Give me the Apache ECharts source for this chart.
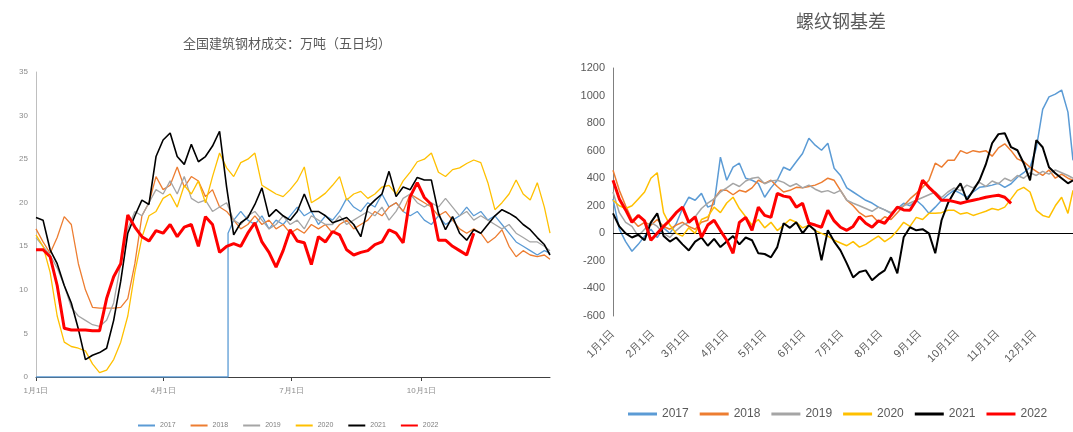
<!DOCTYPE html>
<html><head><meta charset="utf-8">
<script src="https://cdn.jsdelivr.net/npm/echarts@6/dist/echarts.min.js"></script>
<style>html,body{margin:0;padding:0;background:#fff}#c{width:1073px;height:432px}</style>
</head><body><div id="c"></div><script>
const years = ['2017','2018','2019','2020','2021','2022'];
const colors = ['#5B9BD5','#ED7D31','#A5A5A5','#FFC000','#000000','#FF0000'];
const leftTitle = '全国建筑钢材成交：万吨（五日均）';
const rightTitle = '螺纹钢基差';
const leftTickLabels = ['1月1日','4月1日','7月1日','10月1日'];
const rightTickLabels = ['1月1日','2月1日','3月1日','4月1日','5月1日','6月1日','7月1日','8月1日','9月1日','10月1日','11月1日','12月1日'];
const monthLengths = [31,28,31,30,31,30,31,31,30,31,30,31];
// sample day indices (day of year, 0 = 1月1日)
const sampleDays = [0,5,10,15,20,25,30,35,40,45,50,55,60,65,70,75,80,85,90,95,100,105,110,115,120,125,130,135,140,145,150,155,160,165,170,175,180,185,190,195,200,205,210,215,220,225,230,235,240,245,250,255,260,265,270,275,280,285,290,295,300,305,310,315,320,325,330,335,340,345,350,355,360,364];
const days2017Left = [0,136,136,140,145,150,155,160,165,170,175,180,185,190,195,200,205,210,215,220,225,230,235,240,245,250,255,260,265,270,275,280,285,290,295,300,305,310,315,320,325,330,335,340,345,350,355,360,364];

// Left: 全国建筑钢材成交 (万吨)
const left2017 = [0,0,16.5,
 18,19,18,17.5,18.5,17,18,17.5,18.5,19.5,
 18.5,19,17.5,18.5,18,19,20.5,19.5,19,20,
 19.5,21,19.5,20,19,18.5,19,18,17.5,18.5,
 17.5,18,18.5,19.5,18.5,19,18,18.5,17.5,16.5,
 15.5,15,14.5,14,14.5,14.2];
const left2018 = [17,15.5,14.2,16,18.4,17.5,13,10,8,7.9,
 7.9,7.9,8,9,13,18.5,20,23,21.5,22,
 24.1,21.8,23,22.5,20.7,21.5,19.5,19,18,17,
 17.5,18.5,17.5,18,17,17.5,16.5,17,16.5,17.5,
 17,17.5,16.5,17.5,18,17,17.5,18,19,18.5,
 19.5,20,19,21,20.5,20,19.5,18.5,19,18,
 17,16.5,17,16.5,15.4,16,16.9,15,13.8,14.5,
 14,13.8,14,13.5];
const left2019 = [16,15,14,12.5,10.5,8,7,6.5,6,5.8,
 6.5,8.5,13,17,19,18.5,20,21.5,21,22.5,
 21,23,20.5,20,20.3,19,19.5,20,18,17.5,
 18.5,19,18,17,17.5,18.5,17.5,18,17,18.5,
 18,17.5,17.5,18.5,17.5,18,18.5,19,18.5,19.5,
 18,19,20.5,21,20,19.5,20,19.5,20.5,19.5,
 18.5,19,18,18.5,18,17.5,17,17.5,16.5,16,
 15.5,15.5,15,14.5];
const left2020 = [16.3,15,12,7,4,3.5,3.3,3,1.5,0.5,
 0.8,2,4,7,12,16,18.5,19,20.5,21,
 19.5,22,21,22.5,20,23,25.7,24,23,24.6,
 25,25.7,22,21.5,21,20.7,21.5,22.5,24.1,20,
 20.5,21.1,22,23,20.3,21,21.3,20.5,21,21.8,
 22,21,22.5,23.5,24.7,25,25.7,23.5,23,23.8,
 24,24.5,24.9,24.6,22.3,19.2,20,21,22.6,21,
 20.3,22.3,19.5,16.5];
const left2021 = [18.3,18,14.6,13,10.5,8.5,5.5,2,2.5,2.8,
 3.3,6.5,11,16.5,18.5,20.3,19.8,25.3,27.2,28,
 25.3,24.4,26.7,24.7,25.3,26.5,28.2,21.8,16.3,17.7,
 18.3,19.8,21.7,18.4,19.2,18.5,18,19,21,19,
 19,18.5,17.7,18,18.3,17.5,16.1,19.5,20.3,21,
 23.6,20.7,21.8,21.5,22.9,22.6,22.6,18.8,16.9,18.4,
 16.5,15.7,16.9,16.5,17.5,18.5,19.2,18.8,18.3,17.5,
 16.9,16,15.2,14];
const left2022 = [14.6,14.6,13.8,10.5,5.6,5.4,5.4,5.4,5.3,5.3,
 9,11.5,13,18.6,17.2,16.1,15.6,16.8,16.5,17.5,
 16.1,17.2,17.5,15,18.4,17.5,14.3,15,15.3,15,
 16.5,17.7,15.5,14.3,12.6,14.5,16.9,15.6,15.4,12.9,
 16.1,15.5,16.7,16.3,14.6,14,14.3,14.5,15.2,15.5,
 16.9,16.5,15.4,20.7,22.3,20.6,19.8,15.7,15.7,15,
 14.5,14,16.5];

// Right: 螺纹钢基差
const right2017 = [250,30,-60,-130,-80,-20,30,-30,40,0,
 70,180,262,240,290,190,210,553,385,480,
 509,400,385,363,262,330,385,480,458,520,
 580,690,640,603,654,472,420,330,300,270,
 240,220,190,170,145,180,218,200,240,200,
 145,190,240,280,313,290,262,300,334,340,
 350,363,334,360,407,440,480,620,900,990,
 1010,1040,880,530];
const right2018 = [458,312,200,100,50,80,60,100,50,30,
 60,80,50,30,80,95,250,312,312,280,
 312,300,330,385,363,385,340,300,312,334,
 330,340,350,370,400,385,312,240,200,150,
 120,130,80,120,100,150,200,250,290,334,
 385,509,480,530,530,600,580,600,590,600,
 560,620,650,600,540,520,480,450,420,460,
 400,430,400,385];
const right2019 = [300,150,80,50,-20,30,80,50,0,-30,
 20,60,80,120,180,220,250,300,330,363,
 340,380,400,407,360,380,385,370,340,360,
 330,350,320,300,310,290,312,240,218,200,
 180,160,190,170,150,180,200,220,240,260,
 280,300,260,300,330,310,350,330,370,340,
 380,360,400,380,420,400,440,420,450,430,
 460,440,420,400];
const right2020 = [240,200,180,200,250,300,400,440,150,60,
 0,-20,40,0,100,120,190,150,220,262,
 180,120,60,100,40,80,20,60,100,80,
 40,60,20,0,-20,-50,-70,-90,-60,-100,
 -80,-50,-20,-60,-30,20,80,50,116,100,
 145,145,150,167,167,140,150,130,145,160,
 180,170,190,250,312,334,300,167,130,116,
 200,262,145,312];
const right2021 = [145,50,0,-30,-10,-50,80,145,-20,-60,
 -30,-80,-124,-60,-30,-90,-40,-100,-60,-20,
 -80,-30,-50,-145,-150,-174,-100,73,40,80,
 0,60,20,-196,22,-60,-124,-218,-320,-280,
 -269,-341,-300,-269,-174,-290,-29,44,22,30,
 0,-145,95,218,300,363,240,312,385,500,
 654,720,727,625,603,509,385,676,625,480,
 436,400,363,385];
const right2022 = [385,250,170,80,130,90,-50,0,50,95,
 150,190,80,120,-29,60,95,20,-50,-145,
 80,116,22,190,130,116,290,270,262,190,
 218,73,60,44,167,90,44,22,50,120,
 73,44,90,73,130,190,170,167,240,385,
 334,290,240,240,230,218,230,240,250,262,
 270,276,262,218];

const categories = [];
monthLengths.forEach((len, m) => { for (let d = 1; d <= len; d++) categories.push((m + 1) + '月' + d + '日'); });
const pairs = (days, vals) => vals.map((v, i) => [days[i], v]);

const leftData = [pairs(days2017Left, left2017), pairs(sampleDays, left2018), pairs(sampleDays, left2019),
  pairs(sampleDays, left2020), pairs(sampleDays, left2021), pairs(sampleDays, left2022)];
const rightData = [right2017, right2018, right2019, right2020, right2021, right2022].map(v => pairs(sampleDays, v));

const leftWidths = [1.3, 1.3, 1.3, 1.3, 1.6, 3];
const rightWidths = [1.5, 1.5, 1.5, 1.5, 2, 3];

const series = [];
years.forEach((y, i) => series.push({
  name: y, type: 'line', xAxisIndex: 0, yAxisIndex: 0, data: leftData[i], symbol: 'none',
  lineStyle: { color: colors[i], width: leftWidths[i] }, itemStyle: { color: colors[i] },
  emphasis: { disabled: true }, z: 2 + i
}));
years.forEach((y, i) => {
  const s = {
    name: y, type: 'line', xAxisIndex: 1, yAxisIndex: 1, data: rightData[i], symbol: 'none',
    lineStyle: { color: colors[i], width: rightWidths[i] }, itemStyle: { color: colors[i] },
    emphasis: { disabled: true }, z: 2 + i
  };
  if (i === 0) s.markLine = { silent: true, symbol: 'none', label: { show: false },
    lineStyle: { color: '#000', width: 1, type: 'solid' }, data: [{ yAxis: 0 }] };
  series.push(s);
});

const legendItems = () => years.map((y, i) => ({ name: y, icon: 'rect', itemStyle: { color: colors[i] } }));

const chart = echarts.init(document.getElementById('c'), null, { renderer: 'canvas' });
chart.setOption({
  animation: false,
  backgroundColor: '#fff',
  title: [
    { text: leftTitle, left: 282, top: 32, textAlign: 'center',
      textStyle: { fontSize: 13, fontWeight: 'normal', color: '#595959', fontFamily: 'Noto Sans CJK SC' } },
    { text: rightTitle, left: 836, top: 7, textAlign: 'center',
      textStyle: { fontSize: 18, fontWeight: 'normal', color: '#595959', fontFamily: 'Noto Sans CJK SC' } }
  ],
  legend: [
    { data: legendItems(), left: 138, top: 422, padding: 0, width: 330, itemWidth: 17, itemHeight: 2, itemGap: 15,
      textStyle: { fontSize: 7, color: '#7f7f7f' } },
    { data: legendItems(), left: 628, top: 408, padding: 0, width: 445, itemWidth: 29, itemHeight: 3, itemGap: 11,
      textStyle: { fontSize: 12, color: '#595959', fontFamily: 'Liberation Sans' } }
  ],
  grid: [
    { left: 36, top: 72, width: 514, bottom: 55, containLabel: false },
    { left: 613, top: 68, width: 460, bottom: 116, containLabel: false }
  ],
  xAxis: [
    { type: 'category', gridIndex: 0, data: categories, boundaryGap: false,
      axisLine: { onZero: false, lineStyle: { color: '#404040', width: 1 } },
      axisTick: { interval: (i, v) => leftTickLabels.includes(v), length: 4, lineStyle: { color: '#404040' } },
      axisLabel: { interval: (i, v) => leftTickLabels.includes(v), fontSize: 8, color: '#8c8c8c', margin: 10 },
      splitLine: { show: false } },
    { type: 'category', gridIndex: 1, data: categories, boundaryGap: false,
      axisLine: { show: false, onZero: false },
      axisTick: { show: false },
      axisLabel: { interval: (i, v) => rightTickLabels.includes(v), rotate: 45, fontSize: 11, color: '#595959', margin: 16 },
      splitLine: { show: false } }
  ],
  yAxis: [
    { type: 'value', gridIndex: 0, min: 0, max: 35, interval: 5,
      axisLine: { show: true, lineStyle: { color: '#bfbfbf' } }, axisTick: { show: false },
      axisLabel: { fontSize: 8, color: '#8c8c8c', margin: 8 }, splitLine: { show: false } },
    { type: 'value', gridIndex: 1, min: -600, max: 1200, interval: 200,
      axisLine: { show: true, lineStyle: { color: '#7f7f7f' } }, axisTick: { show: false },
      axisLabel: { fontSize: 11, color: '#595959', margin: 8, fontFamily: 'Liberation Sans', formatter: v => String(v) },
      splitLine: { show: false } }
  ],
  series: series
});
</script></body></html>
